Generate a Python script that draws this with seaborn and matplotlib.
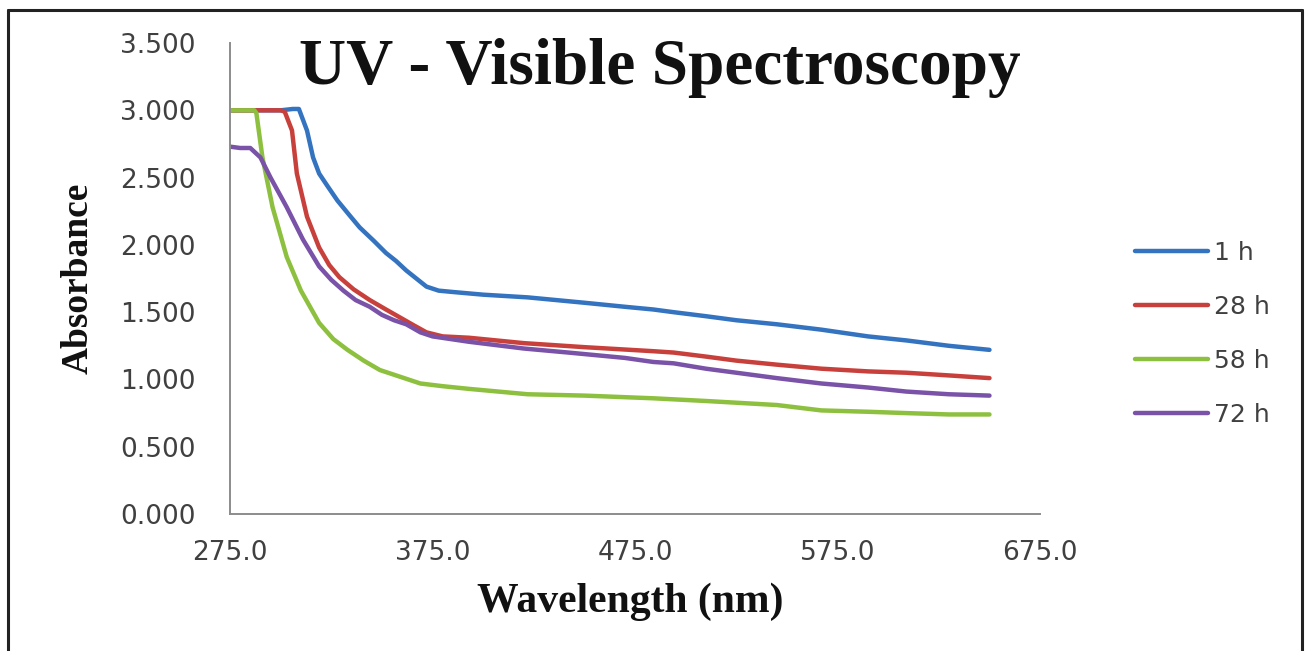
import pandas as pd
import matplotlib.pyplot as plt
import seaborn as sns
from matplotlib.lines import Line2D
from matplotlib.ticker import FormatStrFormatter

# Absorbance readings per sampling time
wl_1h = [275, 300, 306, 309, 313, 316, 319, 323, 328, 334, 339, 346, 352, 357, 362, 367, 372,
         378, 385, 400, 422, 450, 470, 484, 494, 510, 525, 545, 567, 590, 609, 630, 650]
abs_1h = [3.00, 3.00, 3.01, 3.01, 2.85, 2.65, 2.53, 2.44, 2.33, 2.22, 2.13, 2.03, 1.94, 1.88, 1.81, 1.75, 1.69,
          1.66, 1.65, 1.63, 1.61, 1.57, 1.54, 1.52, 1.50, 1.47, 1.44, 1.41, 1.37, 1.32, 1.29, 1.25, 1.22]

wl_28h = [275, 300, 302, 305.6, 308, 313, 319, 324, 329, 336, 344, 352, 359, 366, 372, 380, 393,
          420, 450, 484, 494, 510, 525, 545, 567, 590, 609, 630, 650]
abs_28h = [3.00, 3.00, 2.99, 2.85, 2.53, 2.21, 1.98, 1.85, 1.76, 1.67, 1.59, 1.52, 1.46, 1.40, 1.35, 1.32, 1.31,
           1.27, 1.24, 1.21, 1.20, 1.17, 1.14, 1.11, 1.08, 1.06, 1.05, 1.03, 1.01]

wl_58h = [275, 287, 288, 291, 296, 303, 310, 319, 326, 333, 341, 349, 359, 369, 380, 393,
          422, 450, 484, 510, 545, 567, 590, 609, 630, 650]
abs_58h = [3.00, 3.00, 2.98, 2.65, 2.28, 1.91, 1.66, 1.42, 1.30, 1.22, 1.14, 1.07, 1.02, 0.97, 0.95, 0.93,
           0.89, 0.88, 0.86, 0.84, 0.81, 0.77, 0.76, 0.75, 0.74, 0.74]

wl_72h = [275, 280, 285, 290, 295, 303, 311, 319, 325, 331, 337, 344, 350, 356, 362, 369, 375, 393,
          420, 442, 470, 484, 494, 510, 525, 545, 567, 590, 609, 630, 650]
abs_72h = [2.73, 2.72, 2.72, 2.65, 2.50, 2.28, 2.04, 1.84, 1.74, 1.66, 1.59, 1.54, 1.48, 1.44, 1.41, 1.35, 1.32, 1.28,
           1.23, 1.20, 1.16, 1.13, 1.12, 1.08, 1.05, 1.01, 0.97, 0.94, 0.91, 0.89, 0.88]

series = {'1 h': (wl_1h, abs_1h), '28 h': (wl_28h, abs_28h),
          '58 h': (wl_58h, abs_58h), '72 h': (wl_72h, abs_72h)}
colors = {'1 h': '#3473c0', '28 h': '#c8403c', '58 h': '#8dc03f', '72 h': '#7a52a8'}

x_ticks = [275.0, 375.0, 475.0, 575.0, 675.0]
y_ticks = [0.0, 0.5, 1.0, 1.5, 2.0, 2.5, 3.0, 3.5]

df = pd.concat([pd.DataFrame({'Wavelength': w, 'Absorbance': a, 'Time': t})
                for t, (w, a) in series.items()], ignore_index=True)

sns.set_style('white')
plt.rcParams['font.family'] = ['DejaVu Sans']

fig = plt.figure(figsize=(13.07, 6.51), dpi=100)
ax = fig.add_axes([0.176, 0.2104, 0.6198, 0.7235])

sns.lineplot(data=df, x='Wavelength', y='Absorbance', hue='Time', palette=colors,
             linewidth=3.2, sort=False, estimator=None, ax=ax)

ax.set_xlim(275, 675)
ax.set_ylim(0, 3.5)
ax.set_xticks(x_ticks)
ax.set_yticks(y_ticks)
ax.xaxis.set_major_formatter(FormatStrFormatter('%.1f'))
ax.yaxis.set_major_formatter(FormatStrFormatter('%.3f'))
ax.tick_params(axis='both', direction='out', length=7, width=1.2, color='#8c8c8c',
               labelsize=19, labelcolor='#404040')
ax.tick_params(axis='y', pad=18)
ax.tick_params(axis='x', pad=12)
for side in ['top', 'right']:
    ax.spines[side].set_visible(False)
for side in ['left', 'bottom']:
    ax.spines[side].set_color('#8c8c8c')
    ax.spines[side].set_linewidth(1.4)
ax.set_xlabel('')
ax.set_ylabel('')

serif = ['Liberation Serif', 'DejaVu Serif']
fig.text(660 / 1307, 1 - 68 / 651, 'UV - Visible Spectroscopy', family=serif,
         fontweight='bold', fontsize=47, ha='center', va='center', color='#111111')
fig.text(78 / 1307, 1 - 278 / 651, 'Absorbance', family=serif, fontweight='bold',
         fontsize=27, rotation=90, ha='center', va='center', color='#111111')
fig.text(630 / 1307, 1 - 602 / 651, 'Wavelength (nm)', family=serif, fontweight='bold',
         fontsize=30, ha='center', va='center', color='#111111')

handles, labels = ax.get_legend_handles_labels()
ax.legend(handles, labels, frameon=False, loc='upper left',
          bbox_to_anchor=(1135 / 1307, 1 - 241 / 651), bbox_transform=fig.transFigure,
          borderpad=0, borderaxespad=0, handlelength=2.9, handletextpad=0.25,
          labelspacing=1.2, fontsize=18, labelcolor='#404040')

# outer frame of the picture
for xs, ys in [([8, 8], [651, 10]), ([8, 1302], [10, 10]), ([1302, 1302], [10, 651])]:
    fig.add_artist(Line2D([x / 1307 for x in xs], [1 - y / 651 for y in ys],
                          transform=fig.transFigure, color='#222222', linewidth=2.2))

fig.savefig('out.png', dpi=100)
